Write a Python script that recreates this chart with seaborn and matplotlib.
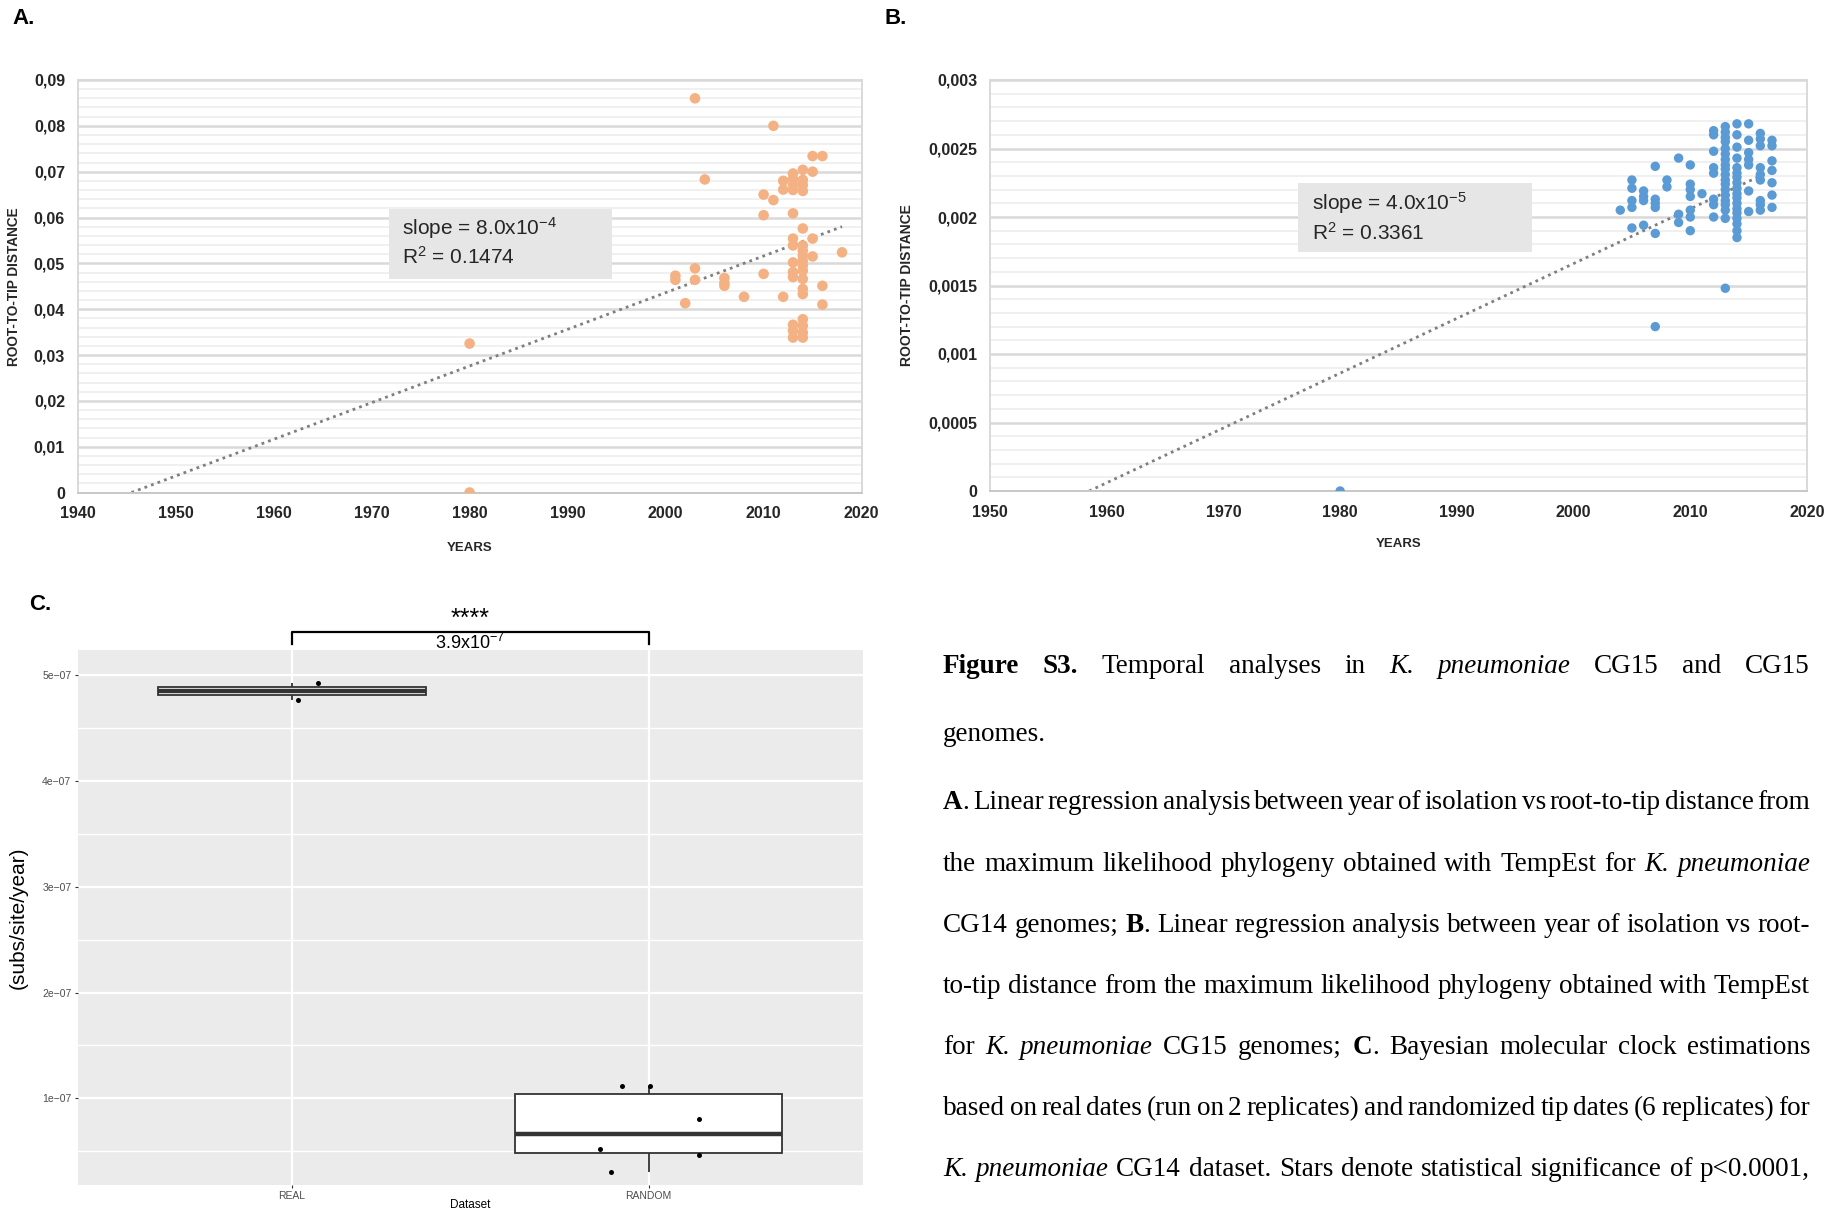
import numpy as np
import pandas as pd
import matplotlib
matplotlib.use("Agg")
import matplotlib.pyplot as plt
import seaborn as sns
from matplotlib import font_manager
from matplotlib.ticker import FuncFormatter, MultipleLocator
from matplotlib.patches import Rectangle

# ---------------- data ----------------
# Panel A (CG14): year of isolation vs root-to-tip distance
years_a = ([1980, 1980, 2001, 2001, 2002, 2003, 2003, 2003, 2004, 2006, 2006, 2006, 2008,
            2010, 2010, 2010, 2011, 2011, 2012, 2012, 2012]
           + [2013] * 13 + [2014] * 18 + [2015] * 4 + [2016] * 3 + [2018])
dist_a = ([0.0325, 0.0, 0.0473, 0.0464, 0.0413, 0.0860, 0.0489, 0.0464, 0.0683,
           0.0468, 0.0457, 0.0451, 0.0427, 0.0650, 0.0605, 0.0477, 0.0800, 0.0638,
           0.0680, 0.0661, 0.0427]
          + [0.0696, 0.0684, 0.0672, 0.0660, 0.0609, 0.0554, 0.0539, 0.0502, 0.0481,
             0.0470, 0.0366, 0.0353, 0.0338]
          + [0.0704, 0.0682, 0.0671, 0.0658, 0.0576, 0.0539, 0.0528, 0.0517, 0.0506,
             0.0495, 0.0484, 0.0466, 0.0444, 0.0433, 0.0378, 0.0364, 0.0349, 0.0338]
          + [0.0734, 0.0700, 0.0554, 0.0515]
          + [0.0734, 0.0451, 0.0410]
          + [0.0524])
slope_a, x0_a, r2_a = 8.0e-4, 1945.5, 0.1474

# Panel B (CG15)
b_groups = {
    1980: [0.0],
    2004: [0.00205],
    2005: [0.00227, 0.00221, 0.00212, 0.00207, 0.00192],
    2006: [0.00219, 0.00215, 0.00212, 0.00194],
    2007: [0.00237, 0.00213, 0.00210, 0.00207, 0.00188, 0.00120],
    2008: [0.00227, 0.00222],
    2009: [0.00243, 0.00202, 0.00196],
    2010: [0.00238, 0.00224, 0.00220, 0.00215, 0.00205, 0.00200, 0.00190],
    2011: [0.00217],
    2012: [0.00263, 0.00260, 0.00248, 0.00236, 0.00232, 0.00213, 0.00209, 0.00200],
    2013: [0.00266, 0.00262, 0.00258, 0.00255, 0.00250, 0.00246, 0.00242, 0.00238,
           0.00235, 0.00231, 0.00227, 0.00224, 0.00220, 0.00216, 0.00212, 0.00209,
           0.00205, 0.00199, 0.00148],
    2014: [0.00268, 0.00260, 0.00251, 0.00243, 0.00236, 0.00232, 0.00229, 0.00225,
           0.00221, 0.00217, 0.00214, 0.00210, 0.00206, 0.00203, 0.00199, 0.00195,
           0.00190, 0.00185],
    2015: [0.00268, 0.00256, 0.00247, 0.00242, 0.00238, 0.00219, 0.00204],
    2016: [0.00261, 0.00257, 0.00252, 0.00236, 0.00231, 0.00227, 0.00212, 0.00209, 0.00205],
    2017: [0.00256, 0.00252, 0.00241, 0.00234, 0.00225, 0.00216, 0.00207],
}
years_b = [y for y, vals in b_groups.items() for _ in vals]
dist_b = [v for vals in b_groups.values() for v in vals]
slope_b, x0_b, r2_b = 4.0e-5, 1958.5, 0.3361

# Panel C: molecular clock rates
datasets = ["REAL", "RANDOM"]
real_rates = [4.77e-7, 4.93e-7]
random_rates = [1.12e-7, 1.12e-7, 0.80e-7, 0.467e-7, 0.52e-7, 0.30e-7]
p_text = "3.9x10$^{-7}$"
stars = "****"

# ---------------- fonts ----------------
avail = {f.name for f in font_manager.fontManager.ttflist}
NARROW = "Liberation Sans Narrow" if "Liberation Sans Narrow" in avail else "Liberation Sans"
SANS = "Liberation Sans"
SERIF = "Liberation Serif"
plt.rcParams["mathtext.fontset"] = "custom"
plt.rcParams["mathtext.rm"] = NARROW
plt.rcParams["mathtext.default"] = "regular"
plt.rcParams["axes.unicode_minus"] = True

W, H = 1843, 1217
fig = plt.figure(figsize=(W / 100, H / 100), dpi=100)
fig.patch.set_facecolor("white")


def rect(l, t, r, b):
    return [l / W, 1 - b / H, (r - l) / W, (b - t) / H]


axA = fig.add_axes(rect(77.6, 80, 861.6, 492.5))
axB = fig.add_axes(rect(990, 80, 1807, 491))
axC = fig.add_axes(rect(77.6, 650, 862.7, 1185))

comma_fmt = FuncFormatter(lambda v, p: "0" if abs(v) < 1e-12 else ("%g" % v).replace(".", ","))


def excel_style(ax, ymax, ymajor, yminor, xlim):
    ax.set_facecolor("white")
    ax.set_axisbelow(True)
    ax.set_xlim(*xlim)
    ax.set_ylim(0, ymax)
    ax.xaxis.set_major_locator(MultipleLocator(10))
    ax.yaxis.set_major_locator(MultipleLocator(ymajor))
    ax.yaxis.set_minor_locator(MultipleLocator(yminor))
    ax.yaxis.set_major_formatter(comma_fmt)
    ax.grid(False)
    ax.yaxis.grid(True, which="minor", color="#f0f0f0", lw=1.4)
    ax.yaxis.grid(True, which="major", color="#d9d9d9", lw=1.8)
    for s in ax.spines.values():
        s.set_color("#d9d9d9")
        s.set_linewidth(1.4)
    ax.spines["bottom"].set_color("#c8c8c8")
    ax.tick_params(which="both", length=0)
    ax.tick_params(axis="x", pad=10)
    ax.tick_params(axis="y", pad=9)
    for lab in ax.get_xticklabels() + ax.get_yticklabels():
        lab.set_fontfamily(NARROW)
        lab.set_fontweight("bold")
        lab.set_fontsize(11.5)
        lab.set_color("#262626")


def trend(ax, x0, slope, xmax):
    fx = np.array([x0, xmax])
    ax.plot(fx, slope * (fx - x0), ls=(0, (1, 1.5)), color="#7f7f7f", lw=2, zorder=2.5)


def stat_box(ax, l, b, w, h, tx, ty1, ty2, line1, line2):
    ax.add_patch(Rectangle((l, b), w, h, transform=ax.transAxes, facecolor="#e6e6e6",
                           edgecolor="none", zorder=1.5))
    ax.text(tx, ty1, line1, transform=ax.transAxes, fontsize=15, family=NARROW,
            color="#262626", va="center", ha="left", zorder=3)
    ax.text(tx, ty2, line2, transform=ax.transAxes, fontsize=15, family=NARROW,
            color="#262626", va="center", ha="left", zorder=3)


# ---------- Panel A ----------
sns.scatterplot(x=years_a, y=dist_a, ax=axA, color="#F4B183", s=58, edgecolor="none",
                linewidth=0, zorder=3)
trend(axA, x0_a, slope_a, max(years_a))
excel_style(axA, 0.09, 0.01, 0.002, (1940, 2020))
stat_box(axA, 0.397, 0.5176, 0.2846, 0.1694, 0.414, 0.641, 0.571,
         "slope = 8.0x10$^{-4}$", "R$^{2}$ = %.4f" % r2_a)
axA.set_xlabel("YEARS", fontsize=9.5, fontweight="bold", family=SANS, color="#262626")
axA.set_ylabel("ROOT-TO-TIP DISTANCE", fontsize=9.8, fontweight="bold", family=SANS,
               color="#262626")
axA.xaxis.set_label_coords(0.5, -0.12)
axA.yaxis.set_label_coords(-0.072, 0.5)

# ---------- Panel B ----------
sns.scatterplot(x=years_b, y=dist_b, ax=axB, color="#5B9BD5", s=46, edgecolor="none",
                linewidth=0, zorder=3)
trend(axB, x0_b, slope_b, max(years_b))
excel_style(axB, 0.003, 0.0005, 0.0001, (1950, 2020))
stat_box(axB, 0.377, 0.5815, 0.286, 0.1675, 0.394, 0.70, 0.628,
         "slope = 4.0x10$^{-5}$", "R$^{2}$ = %.4f" % r2_b)
axB.set_xlabel("YEARS", fontsize=9.5, fontweight="bold", family=SANS, color="#262626")
axB.set_ylabel("ROOT-TO-TIP DISTANCE", fontsize=10, fontweight="bold", family=SANS,
               color="#262626")
axB.xaxis.set_label_coords(0.5, -0.114)
axB.yaxis.set_label_coords(-0.093, 0.5)

# ---------- Panel C ----------
dfC = pd.DataFrame({
    "Dataset": ["REAL"] * len(real_rates) + ["RANDOM"] * len(random_rates),
    "rate": real_rates + random_rates,
})
axC.set_facecolor("#EBEBEB")
axC.set_axisbelow(True)
sns.boxplot(data=dfC, x="Dataset", y="rate", order=datasets, ax=axC, color="white",
            linecolor="#333333", linewidth=1.3, width=0.75, showcaps=False,
            showfliers=False, medianprops=dict(linewidth=3.2, color="#333333"))
np.random.seed(3)
sns.stripplot(data=dfC, x="Dataset", y="rate", order=datasets, ax=axC, color="black",
              size=3.6, jitter=0.18, zorder=4)
axC.set_xlim(-0.6, 1.6)
axC.set_ylim(0.18e-7, 5.24e-7)
axC.yaxis.set_major_locator(MultipleLocator(1e-7))
axC.yaxis.set_minor_locator(MultipleLocator(0.5e-7))
axC.yaxis.set_major_formatter(FuncFormatter(lambda v, p: ("%.0e" % v).replace("-", "\u2212")))
axC.grid(False)
axC.yaxis.grid(True, which="minor", color="white", lw=1.0)
axC.yaxis.grid(True, which="major", color="white", lw=1.6)
axC.xaxis.grid(True, which="major", color="white", lw=1.6)
for s in axC.spines.values():
    s.set_visible(False)
axC.tick_params(which="major", length=2.5, width=0.8, color="#333333", labelsize=7.5,
                labelcolor="#4D4D4D", pad=2)
axC.tick_params(which="minor", length=0)
for lab in axC.get_xticklabels() + axC.get_yticklabels():
    lab.set_fontfamily(SANS)
axC.set_xlabel("Dataset", fontsize=8.5, family=SANS, color="black")
axC.set_ylabel("(subs/site/year)", fontsize=15, family=SANS, color="black")
axC.xaxis.set_label_coords(0.5, -0.026)
axC.yaxis.set_label_coords(-0.063, 0.5)

# significance bracket
br_low, br_high = 5.30e-7, 5.41e-7
axC.plot([0, 0, 1, 1], [br_low, br_high, br_high, br_low], color="black", lw=1.6,
         clip_on=False, zorder=5)
axC.text(0.5, br_high + 0.012e-7, stars, ha="center", va="bottom", fontsize=18,
         family=SANS, clip_on=False)
axC.text(0.5, br_high - 0.012e-7, p_text, ha="center", va="top", fontsize=13,
         family=NARROW, clip_on=False)

# panel letters
for lx, ly, letter in [(12, 18, "A."), (884, 18, "B."), (29, 605, "C.")]:
    fig.text(lx / W, 1 - ly / H, letter, fontsize=16, fontweight="bold", family=NARROW,
             ha="left", va="center")

# ---------- caption (justified) ----------
cap_lines = [
    ([("Figure", "b"), ("S3.", "b"), ("Temporal", "n"), ("analyses", "n"), ("in", "n"),
      ("K.", "i"), ("pneumoniae", "i"), ("CG15", "n"), ("and", "n"), ("CG15", "n")], True),
    ([("genomes.", "n")], False),
    ([("A", "b"), (". Linear regression analysis between year of isolation vs root-to-tip distance from", "n")], True),
    ([("the maximum likelihood phylogeny obtained with TempEst for", "n"), ("K. pneumoniae", "i")], True),
    ([("CG14 genomes;", "n"), ("B", "b"), (".  Linear regression analysis between year of isolation vs root-", "n")], True),
    ([("to-tip distance from the maximum likelihood phylogeny obtained with TempEst", "n")], True),
    ([("for", "n"), ("K. pneumoniae", "i"), ("CG15 genomes;", "n"), ("C", "b"),
      (".  Bayesian molecular clock estimations", "n")], True),
    ([("based on real dates (run on 2 replicates) and randomized tip dates (6 replicates) for", "n")], True),
    ([("K. pneumoniae", "i"), ("CG14 dataset. Stars denote statistical significance of p<0.0001,", "n")], True),
]
cap_baselines = [673, 741, 809, 871, 932, 993, 1054, 1115, 1176]
CAP_SIZE = 19.5


def split_tokens(tokens):
    words = []
    for txt, st in tokens:
        parts = txt.split()
        for i, p in enumerate(parts):
            attach = (i == 0 and words and words[-1][1] == "b" and st != "b"
                      and txt[0] in ".,;")
            words.append((p, st, attach))
    return words


renderer = fig.canvas.get_renderer()
X0p, X1p = 943, 1810
for (tokens, justify), yb in zip(cap_lines, cap_baselines):
    words = split_tokens(tokens)
    size = CAP_SIZE
    while True:
        arts = []
        for w, st, _ in words:
            t = fig.text(0, 1 - yb / H, w, fontsize=size, family=SERIF,
                         fontweight="bold" if st == "b" else "normal",
                         fontstyle="italic" if st == "i" else "normal",
                         va="baseline", ha="left")
            arts.append(t)
        widths = [a.get_window_extent(renderer).width for a in arts]
        space = size * 100 / 72 * 0.25
        ngaps = sum(1 for wd in words[1:] if not wd[2])
        if sum(widths) + 0.55 * space * ngaps <= (X1p - X0p) or size < 9:
            break
        for a in arts:
            a.remove()
        size -= 0.25
    if justify and ngaps > 0:
        gap = (X1p - X0p - sum(widths)) / ngaps
    else:
        gap = space
    x = X0p
    for i, (a, wdt, wd) in enumerate(zip(arts, widths, words)):
        if i > 0 and not wd[2]:
            x += gap
        a.set_x(x / W)
        x += wdt

fig.savefig("out.png", dpi=100, facecolor="white")
